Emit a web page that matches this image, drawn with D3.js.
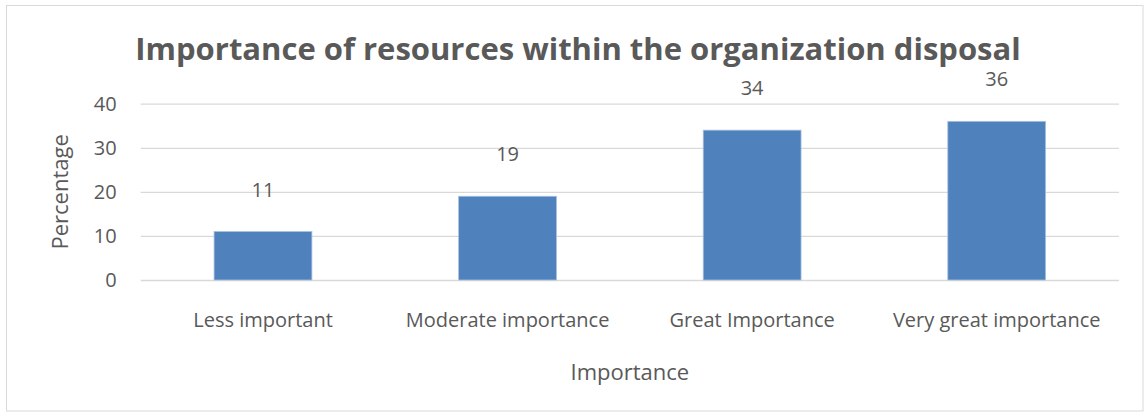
<!DOCTYPE html>
<html>
<head>
<meta charset="utf-8">
<script src="https://cdn.jsdelivr.net/npm/d3@7"></script>
<style>
  html, body { margin: 0; padding: 0; background: #fff; }
  text { font-family: "Open Sans", sans-serif; fill: #595959; }
</style>
</head>
<body>
<svg id="chart" width="1148" height="417"></svg>
<script>
const categories = ["Less important", "Moderate importance", "Great Importance", "Very great importance"];
const values = [11, 19, 34, 36];
const yTicks = [0, 10, 20, 30, 40];
const titleText = "Importance of resources within the organization disposal";
const xAxisTitle = "Importance";
const yAxisTitle = "Percentage";

const W = 1148, H = 417;
const FONT = "'Open Sans', sans-serif";
const margin = { left: 140.7, right: 1148 - 1119, top: 103.7, bottom: 417 - 280 };
const svg = d3.select("#chart");

svg.append("rect")
  .attr("x", 6.5).attr("y", 5.5)
  .attr("width", 1143 - 6.5).attr("height", 411 - 5.5)
  .attr("fill", "#fff").attr("stroke", "#D9D9D9").attr("stroke-width", 1);

const x = d3.scaleBand()
  .domain(categories)
  .range([margin.left, W - margin.right])
  .paddingInner(0.6)
  .paddingOuter(0.3);

const y = d3.scaleLinear()
  .domain([0, 40])
  .range([H - margin.bottom, margin.top]);

const grid = d3.axisLeft(y).tickValues(yTicks).tickSize(-(W - margin.right - margin.left)).tickFormat("");
const gG = svg.append("g").attr("transform", `translate(${margin.left},0)`).call(grid);
gG.select(".domain").remove();
gG.selectAll("line").attr("stroke", "#D9D9D9").attr("stroke-width", 1.3);

const yAxis = d3.axisLeft(y).tickValues(yTicks).tickSize(0).tickPadding(24);
const yG = svg.append("g").attr("transform", `translate(${margin.left},0)`).call(yAxis);
yG.select(".domain").remove();
yG.selectAll("text").attr("font-size", 20).style("fill", "#595959").style("font-family", FONT);

svg.append("g").selectAll("rect").data(values).join("rect")
  .attr("x", (d, i) => x(categories[i]))
  .attr("width", x.bandwidth())
  .attr("y", d => y(d))
  .attr("height", d => y(0) - y(d))
  .attr("fill", "#4F81BD")
  .attr("stroke", "#A8C1E0").attr("stroke-width", 0.8);

svg.append("g").selectAll("text").data(values).join("text")
  .attr("x", (d, i) => x(categories[i]) + x.bandwidth() / 2)
  .attr("y", d => y(d) - 35)
  .attr("text-anchor", "middle")
  .attr("font-size", 20)
  .text(d => d);

const xAxis = d3.axisBottom(x).tickSize(0).tickPadding(0);
const xG = svg.append("g").attr("transform", `translate(0,${y(0)})`).call(xAxis);
xG.select(".domain").remove();
xG.selectAll("text")
  .attr("dy", null).attr("y", 47)
  .attr("font-size", 20).style("fill", "#595959").style("font-family", FONT);

svg.append("text")
  .attr("x", 578).attr("y", 60)
  .attr("text-anchor", "middle")
  .attr("font-size", 31).attr("font-weight", "bold")
  .text(titleText);

svg.append("text")
  .attr("x", (margin.left + W - margin.right) / 2).attr("y", 380)
  .attr("text-anchor", "middle")
  .attr("font-size", 22)
  .text(xAxisTitle);

svg.append("text")
  .attr("transform", `translate(68,${(y(0) + y(40)) / 2}) rotate(-90)`)
  .attr("text-anchor", "middle")
  .attr("font-size", 22)
  .text(yAxisTitle);
</script>
</body>
</html>
